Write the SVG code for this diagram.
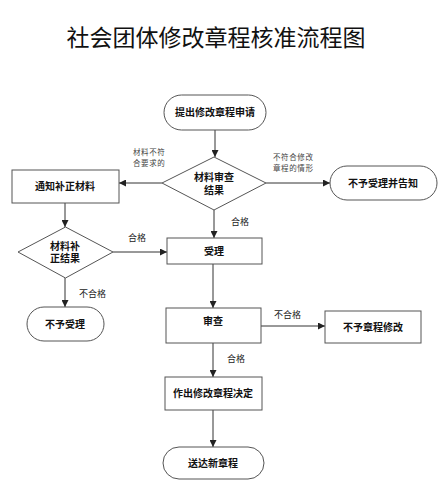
<svg xmlns="http://www.w3.org/2000/svg" width="445" height="500" viewBox="0 0 445 500">
<defs>
<style>
.n{fill:#fff;stroke:#555;stroke-width:1}
.t{font-family:"Liberation Sans","Noto Sans CJK SC",sans-serif;font-size:10px;font-weight:bold;fill:#111;text-anchor:middle}
.l{font-family:"Liberation Sans","Noto Sans CJK SC",sans-serif;font-size:9px;fill:#222}
.s{font-family:"Liberation Sans","Noto Sans CJK SC",sans-serif;font-size:7.5px;fill:#444;letter-spacing:0.6px}
.c{fill:none;stroke:#333;stroke-width:1;marker-end:url(#a)}
</style>
<marker id="a" viewBox="0 0 10 10" refX="10" refY="5" markerWidth="7" markerHeight="7" markerUnits="userSpaceOnUse" orient="auto">
<path d="M0,0 L10,5 L0,10 z" fill="#222"/>
</marker>
</defs>
<rect width="445" height="500" fill="#fff"/>
<text x="216" y="46" font-family="'Noto Sans CJK SC',sans-serif" font-size="23" fill="#111" text-anchor="middle">社会团体修改章程核准流程图</text>

<g id="connectors">
<path class="c" d="M215,130 V157"/>
<path class="c" d="M162,183 H119"/>
<path class="c" d="M266,183 H330"/>
<path class="c" d="M214,210 V238"/>
<path class="c" d="M65,203 V227"/>
<path class="c" d="M113,252 H167"/>
<path class="c" d="M65,278 V307"/>
<path class="c" d="M213,264 V308"/>
<path class="c" d="M261,326 H325"/>
<path class="c" d="M213,343 V377"/>
<path class="c" d="M213,410 V447"/>
<text class="s" x="133" y="155">材料不符</text>
<text class="s" x="133" y="166">合要求的</text>
<text class="s" x="273" y="160">不符合修改</text>
<text class="s" x="273" y="171">章程的情形</text>
<text class="l" x="231" y="225">合格</text>
<text class="l" x="128" y="241">合格</text>
<text class="l" x="79" y="297">不合格</text>
<text class="l" x="274" y="318">不合格</text>
<text class="l" x="227" y="362">合格</text>
</g>

<g id="start"><rect class="n" x="164" y="95" width="102" height="35" rx="17.5"/><text class="t" x="215" y="116">提出修改章程申请</text></g>
<g id="review"><path class="n" d="M214,157 L266,183 L214,210 L162,183 z"/><text class="t" x="214" y="181">材料审查</text><text class="t" x="214" y="194">结果</text></g>
<g id="notify"><rect class="n" x="12" y="170" width="107" height="33"/><text class="t" x="65" y="190">通知补正材料</text></g>
<g id="reject1"><rect class="n" x="330" y="166" width="107" height="34" rx="17"/><text class="t" x="383" y="187">不予受理并告知</text></g>
<g id="supplement"><path class="n" d="M65.5,227 L113,252 L65.5,278 L18,252 z"/><text class="t" x="65" y="250">材料补</text><text class="t" x="65" y="262">正结果</text></g>
<g id="accept"><rect class="n" x="167" y="238" width="95" height="26"/><text class="t" x="214" y="255">受理</text></g>
<g id="reject2"><rect class="n" x="27" y="307" width="77" height="34" rx="17"/><text class="t" x="65" y="328">不予受理</text></g>
<g id="examine"><rect class="n" x="166" y="308" width="95" height="35"/><text class="t" x="213" y="325">审查</text></g>
<g id="reject3"><rect class="n" x="325" y="311" width="96" height="32"/><text class="t" x="373" y="331">不予章程修改</text></g>
<g id="decision"><rect class="n" x="165" y="377" width="97" height="33"/><text class="t" x="213" y="397">作出修改章程决定</text></g>
<g id="deliver"><rect class="n" x="163" y="447" width="101" height="32" rx="16"/><text class="t" x="213" y="467">送达新章程</text></g>
</svg>
